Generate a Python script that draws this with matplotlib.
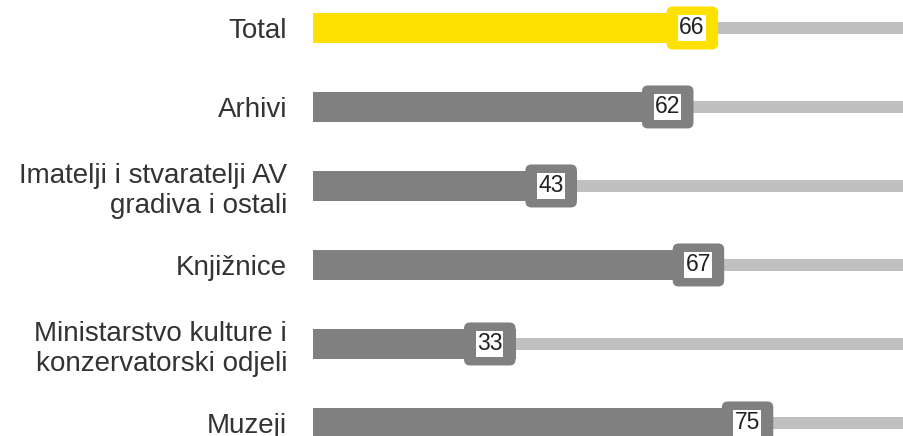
import matplotlib
matplotlib.use('Agg')
import matplotlib.pyplot as plt
from matplotlib.patches import FancyBboxPatch
from matplotlib.transforms import ScaledTranslation

plt.rcParams['font.family'] = ['Liberation Sans', 'DejaVu Sans']

## data
categories = ['Total', 'Arhivi', 'Imatelji i stvaratelji AV\ngradiva i ostali',
              'Knjižnice', 'Ministarstvo kulture i\nkonzervatorski odjeli', 'Muzeji']
values = [66, 62, 43, 67, 33, 75]
max_value = 100
bar_colors = ['#FFE100', '#808080', '#808080', '#808080', '#808080', '#808080']
track_color = '#C0C0C0'

fig = plt.figure(figsize=(9.04, 4.36), dpi=100)
ax = fig.add_axes([313 / 904, 0, 1 - 313 / 904, 1])

ypos = list(range(len(categories)))

# light track from value to the max, then the coloured bar
ax.barh(ypos, [max_value - v for v in values], left=values, height=0.152,
        color=track_color, edgecolor='none')
ax.barh(ypos, values, height=0.38, color=bar_colors, edgecolor='none')

# rounded badge at the end of each bar with the value in a white box
for y, v, c in zip(ypos, values, bar_colors):
    tr = fig.dpi_scale_trans + ScaledTranslation(v, y, ax.transData)
    badge = FancyBboxPatch((-0.515, -0.215), 0.515, 0.43,
                           boxstyle='round,pad=0,rounding_size=0.06',
                           fc=c, ec='none', transform=tr, zorder=3)
    ax.add_patch(badge)
    ax.annotate(str(v), xy=(v, y), xytext=(-26, 0), textcoords='offset pixels',
                ha='center', va='center', fontsize=16.5, color='#222222', zorder=4,
                bbox=dict(fc='white', ec='none', pad=0.8))

ax.set_xlim(0, 96.3)
ax.set_ylim(5.165, -0.354)
ax.set_yticks(ypos)
ax.set_yticklabels(categories, fontsize=20, color='#333333', ha='right')
ax.tick_params(axis='y', length=0, pad=18.7)
ax.set_xticks([])
for s in ax.spines.values():
    s.set_visible(False)

fig.savefig('out.png', dpi=100)
